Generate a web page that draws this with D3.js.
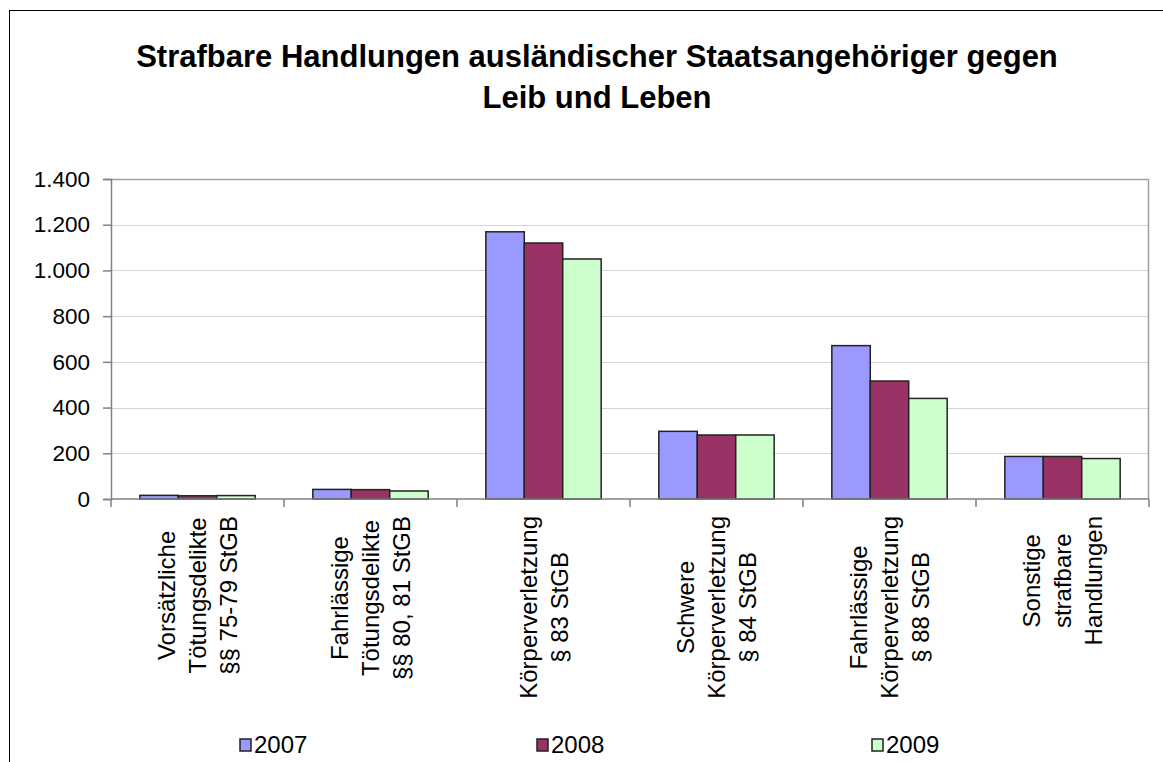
<!DOCTYPE html>
<html><head><meta charset="utf-8">
<script src="https://cdn.jsdelivr.net/npm/d3@7"></script>
<style>
body{margin:0;background:#fff}
text{font-family:"Liberation Sans",Arial,Helvetica,sans-serif;fill:#000}
</style>
</head><body>
<svg id="chart" width="1163" height="762"></svg>
<script>
// ---- data ----
const categories = [
  ["Vorsätzliche","Tötungsdelikte","§§ 75-79 StGB"],
  ["Fahrlässige","Tötungsdelikte","§§ 80, 81 StGB"],
  ["Körperverletzung","§ 83 StGB"],
  ["Schwere","Körperverletzung","§ 84 StGB"],
  ["Fahrlässige","Körperverletzung","§ 88 StGB"],
  ["Sonstige","strafbare","Handlungen"]
];
const years = ["2007","2008","2009"];
const values2007 = [16, 42, 1169, 296, 671, 186];
const values2008 = [14, 41, 1120, 280, 516, 186];
const values2009 = [15, 35, 1050, 280, 440, 177];
const yTicks = [0, 200, 400, 600, 800, 1000, 1200, 1400];
const titleLines = ["Strafbare Handlungen ausländischer Staatsangehöriger gegen","Leib und Leben"];
const colors = ["#9999FF","#993366","#CCFFCC"];

const series = [values2007, values2008, values2009];

// ---- layout ----
const W = 1163, H = 762;
const plot = {left:111, right:1149, top:179, bottom:499};
const svg = d3.select("#chart");

// outer frame (left and top edges visible)
svg.append("line").attr("x1",9.5).attr("x2",9.5).attr("y1",10).attr("y2",H).attr("stroke","#000").attr("stroke-width",1);
svg.append("line").attr("x1",9).attr("x2",W).attr("y1",10.5).attr("y2",10.5).attr("stroke","#000").attr("stroke-width",1);

// title
const title = svg.append("text").attr("x",597).attr("y",67).attr("text-anchor","middle")
  .style("font-weight","bold").style("font-size","31px");
titleLines.forEach((t,i)=>title.append("tspan").attr("x",597).attr("dy", i===0?0:41).text(t));

const x0 = d3.scaleBand().domain(d3.range(categories.length)).range([plot.left, plot.right]).padding(0);
const barW = x0.bandwidth()/4.5;
const x1 = d3.scaleBand().domain(years).range([barW*0.75, barW*3.75]).padding(0);
const y = d3.scaleLinear().domain([0,1400]).range([plot.bottom, plot.top]);

const de = d3.formatLocale({decimal:",", thousands:".", grouping:[3], currency:["","€"]});
const fmt = de.format(",d");

// gridlines
svg.append("g").selectAll("line").data(yTicks.filter(d=>d>0)).join("line")
  .attr("x1",plot.left).attr("x2",plot.right)
  .attr("y1",d=>Math.round(y(d))+0.5).attr("y2",d=>Math.round(y(d))+0.5)
  .attr("stroke","#d4d4d4").attr("stroke-width",1);

// plot border
svg.append("path").attr("d",`M${plot.left},${plot.top+0.5}H${plot.right-0.5}V${plot.bottom}`)
  .attr("fill","none").attr("stroke","#a0a0a0").attr("stroke-width",1.5);

// bars
const groups = svg.append("g").selectAll("g").data(categories.map((c,i)=>i)).join("g")
  .attr("transform",i=>`translate(${x0(i)},0)`);
groups.selectAll("rect").data(i=>years.map((yr,k)=>({yr,k,v:series[k][i]}))).join("rect")
  .attr("x",d=>x1(d.yr)).attr("width",x1.bandwidth())
  .attr("y",d=>y(d.v)).attr("height",d=>y(0)-y(d.v))
  .attr("fill",d=>colors[d.k]).attr("stroke","#222").attr("stroke-width",1.5);

// y axis
const yAxis = svg.append("g").attr("transform",`translate(${plot.left},0)`)
  .call(d3.axisLeft(y).tickValues(yTicks).tickFormat(fmt).tickSize(8).tickPadding(13));
yAxis.select(".domain").attr("stroke","#808080").attr("stroke-width",1.5);
yAxis.selectAll(".tick line").attr("stroke","#808080").attr("stroke-width",1.5);
yAxis.selectAll(".tick text").style("font-size","22.5px").attr("fill","#000").style("font-family","'Liberation Sans',Arial,sans-serif");

// x axis
const xAxisG = svg.append("g").attr("transform",`translate(0,${plot.bottom})`);
xAxisG.append("line").attr("x1",plot.left).attr("x2",plot.right).attr("stroke","#808080").attr("stroke-width",1.5);
const xBounds = d3.range(categories.length+1).map(i=> i<categories.length ? x0(i) : plot.right);
xAxisG.selectAll("line.t").data(xBounds).join("line").attr("class","t")
  .attr("x1",d=>d).attr("x2",d=>d).attr("y1",0).attr("y2",8)
  .attr("stroke","#808080").attr("stroke-width",1.5);

// category labels, rotated; block anchored at top, lines centred on each other
const lineGap = 31;
const labelTop = 516;
const fs = 24;
categories.forEach((lines,i)=>{
  const cx = x0(i)+x0.bandwidth()/2;
  const n = lines.length;
  const texts = lines.map((t,j)=>{
    const lx = cx + (j-(n-1)/2)*lineGap;
    return svg.append("text")
      .attr("text-anchor","middle")
      .style("font-size",fs+"px")
      .attr("data-x", lx)
      .text(t);
  });
  const maxLen = d3.max(texts, t=>t.node().getComputedTextLength());
  const cy = labelTop + maxLen/2;
  texts.forEach(t=>{
    const lx = +t.attr("data-x");
    t.attr("transform",`translate(${lx+fs*0.36},${cy}) rotate(-90)`);
  });
});

// legend
const legendX = [240, 537, 872];
const leg = svg.append("g").selectAll("g").data(years).join("g")
  .attr("transform",(d,i)=>`translate(${legendX[i]},739)`);
leg.append("rect").attr("width",11).attr("height",12).attr("fill",(d,i)=>colors[i]).attr("stroke","#222").attr("stroke-width",1.5);
leg.append("text").attr("x",14).attr("y",14).style("font-size","24px").text(d=>d);
</script>
</body></html>
